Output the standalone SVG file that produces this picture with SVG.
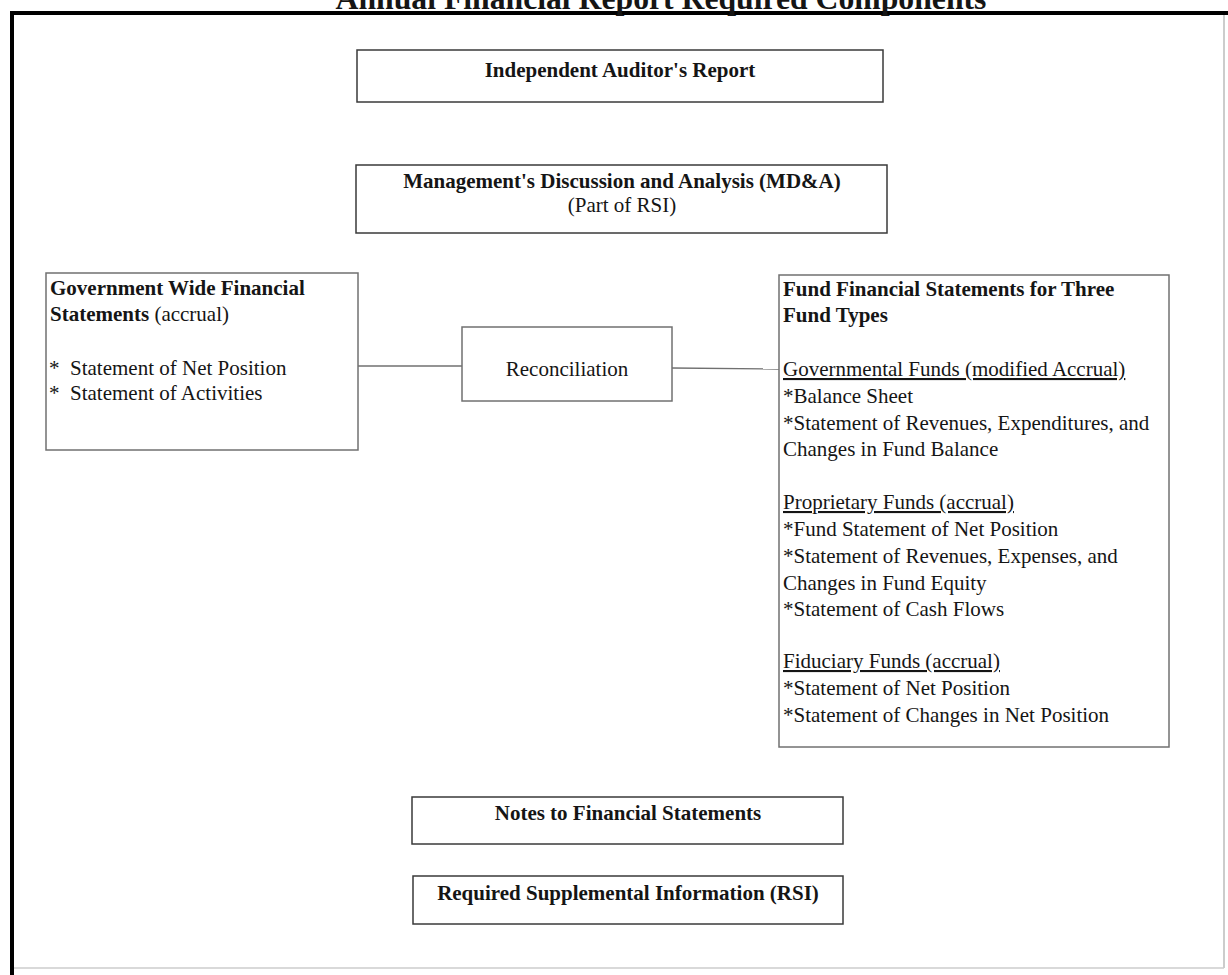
<svg xmlns="http://www.w3.org/2000/svg" width="1228" height="975" viewBox="0 0 1228 975">
<style>
text{font-family:"Liberation Serif","Times New Roman",serif;font-size:21px;fill:#151515}
.b{font-weight:bold}
.box{fill:#fff;stroke:#3a3a3a;stroke-width:1.5}
.lt{stroke:#707070}
.conn{stroke:#707070;stroke-width:1.3;fill:none}
.u{text-decoration:underline}
</style>
<rect width="1228" height="975" fill="#fff"/>
<g id="frame">
<line x1="1224" y1="14" x2="1224" y2="968" stroke="#bbb" stroke-width="1.5"/>
<line x1="12" y1="968" x2="1224" y2="968" stroke="#ccc" stroke-width="1.5"/>
<line x1="12" y1="13" x2="12" y2="975" stroke="#000" stroke-width="4"/>
<line x1="10" y1="13" x2="1228" y2="13" stroke="#000" stroke-width="4"/>
</g>
<text id="title" class="b" x="661" y="9" text-anchor="middle" style="font-size:31.7px">Annual Financial Report Required Components</text>
<g id="connectors">
<line class="conn" x1="358" y1="366" x2="462" y2="366"/>
<line class="conn" x1="672" y1="368" x2="779" y2="369"/>
</g>
<g id="auditor">
<rect class="box" x="357" y="50" width="526" height="52"/>
<text class="b" x="620" y="77" text-anchor="middle">Independent Auditor's Report</text>
</g>
<g id="mda">
<rect class="box" x="356" y="165" width="531" height="68"/>
<text class="b" x="622" y="188" text-anchor="middle">Management's Discussion and Analysis (MD&amp;A)</text>
<text x="622" y="212" text-anchor="middle">(Part of RSI)</text>
</g>
<g id="govwide">
<rect class="box lt" x="46" y="273" width="312" height="177"/>
<text class="b" x="50" y="295">Government Wide Financial</text>
<text x="50" y="321"><tspan class="b">Statements</tspan> (accrual)</text>
<text x="49" y="375">*</text>
<text x="70" y="375">Statement of Net Position</text>
<text x="49" y="400">*</text>
<text x="70" y="400">Statement of Activities</text>
</g>
<g id="reconciliation">
<rect class="box lt" x="462" y="327" width="210" height="74"/>
<text x="567" y="376" text-anchor="middle">Reconciliation</text>
</g>
<g id="fund">
<rect class="box lt" x="779" y="275" width="390" height="472"/>
<text class="b" x="783" y="296">Fund Financial Statements for Three</text>
<text class="b" x="783" y="322">Fund Types</text>
<text class="u" x="783" y="376">Governmental Funds (modified Accrual)</text>
<text x="783" y="403">*Balance Sheet</text>
<text x="783" y="430">*Statement of Revenues, Expenditures, and</text>
<text x="783" y="456">Changes in Fund Balance</text>
<text class="u" x="783" y="509">Proprietary Funds (accrual)</text>
<text x="783" y="536">*Fund Statement of Net Position</text>
<text x="783" y="563">*Statement of Revenues, Expenses, and</text>
<text x="783" y="590">Changes in Fund Equity</text>
<text x="783" y="616">*Statement of Cash Flows</text>
<text class="u" x="783" y="668">Fiduciary Funds (accrual)</text>
<text x="783" y="695">*Statement of Net Position</text>
<text x="783" y="722">*Statement of Changes in Net Position</text>
</g>
<g id="notes">
<rect class="box" x="412" y="797" width="431" height="47"/>
<text class="b" x="628" y="820" text-anchor="middle">Notes to Financial Statements</text>
</g>
<g id="rsi">
<rect class="box" x="413" y="876" width="430" height="48"/>
<text class="b" x="628" y="900" text-anchor="middle">Required Supplemental Information (RSI)</text>
</g>
</svg>
